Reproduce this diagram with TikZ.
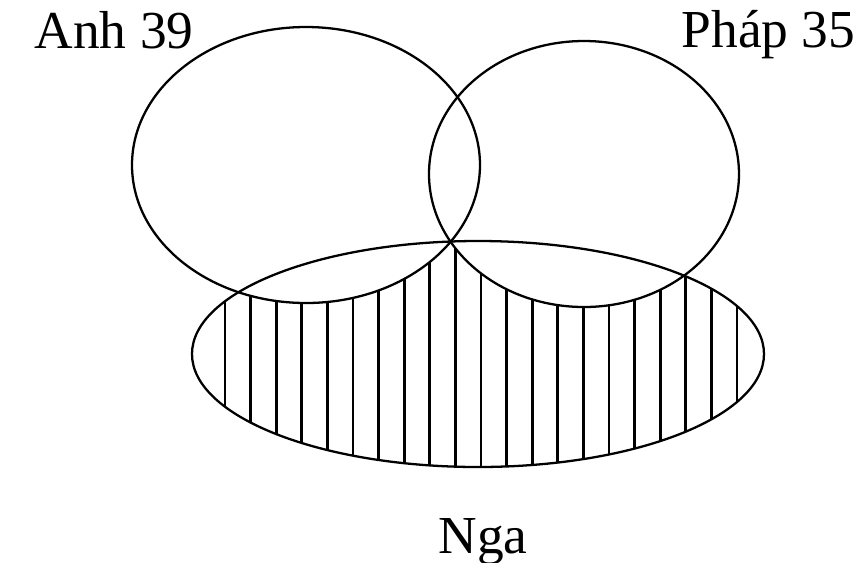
\documentclass[tikz,border=0pt]{standalone}
\usepackage{fontspec}
\setmainfont{Liberation Serif}
\usepackage{tikz}
\usetikzlibrary{positioning}
\tikzset{
	every node/.style = {font=\fontsize{15.2}{18}\selectfont},
	setline/.style = {-, line width=0.65pt, black},
	hatchline/.style = {-, line width=0.75pt, black}
}

\begin{document}
\begin{tikzpicture}
		\useasboundingbox (0,0) rectangle (8.62,-5.62);
		% hatching (Nga only)
		\begin{scope}
			\clip (4.78,-3.54) ellipse [x radius=2.86, y radius=1.13];
			\foreach \x in {0,...,20}
				\draw[hatchline] (2.25+0.256*\x,-2.2) -- (2.25+0.256*\x,-4.8);
			\fill[white] (3.06,-1.65) ellipse [x radius=1.74, y radius=1.38];
			\fill[white] (5.84,-1.74) ellipse [x radius=1.55, y radius=1.33];
		\end{scope}
		% sets
		\draw[setline] (3.06,-1.65) ellipse [x radius=1.74, y radius=1.38];
		\draw[setline] (5.84,-1.74) ellipse [x radius=1.55, y radius=1.33];
		\draw[setline] (4.78,-3.54) ellipse [x radius=2.86, y radius=1.13];
		% labels
		\node[anchor=base west, inner sep=0] (anh) at (0.34,-0.48) {Anh 39};
		\node[anchor=base east, inner sep=0] (phap) at (8.56,-0.47) {Pháp 35};
		\node[anchor=base, inner sep=0] (nga) at (4.83,-5.53) {Nga};
	\end{tikzpicture}
\end{document}
